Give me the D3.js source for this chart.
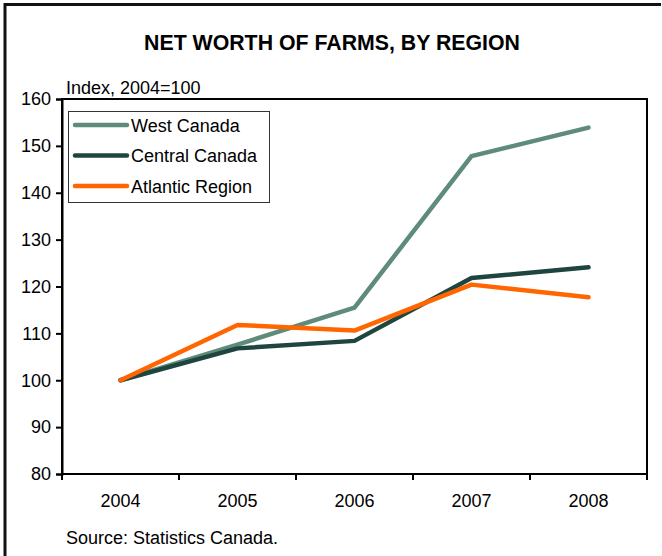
<!DOCTYPE html>
<html><head><meta charset="utf-8">
<script src="https://cdn.jsdelivr.net/npm/d3@7"></script>
<style>body{margin:0;background:#fff}svg{display:block}text{font-family:"Liberation Sans",Arial,sans-serif}</style>
</head><body>
<script>
const years = ["2004","2005","2006","2007","2008"];
const westCanada = [100, 107.6, 115.5, 147.8, 153.9];
const centralCanada = [100, 106.8, 108.4, 121.8, 124.1];
const atlanticRegion = [100, 111.8, 110.6, 120.4, 117.7];
const seriesNames = ["West Canada","Central Canada","Atlantic Region"];
const yTicks = [80,90,100,110,120,130,140,150,160];

const W=662,H=556;
const svg=d3.select("body").append("svg").attr("width",W).attr("height",H);
const m={l:62,t:99,r:647,b:474};
const x=d3.scaleBand().domain(years).range([m.l,m.r]);
const y=d3.scaleLinear().domain([80,160]).range([m.b,m.t]);
const fs=18;

// outer frame
svg.append("path").attr("d",`M5,${H+5} V4.5 H661`).attr("fill","none").attr("stroke","#111").attr("stroke-width",3);

svg.append("text").attr("x",332).attr("y",50).attr("text-anchor","middle").attr("font-size",21.3).attr("font-weight","bold").text("NET WORTH OF FARMS, BY REGION");
svg.append("text").attr("x",66).attr("y",94).attr("font-size",fs).text("Index, 2004=100");

// plot box
svg.append("rect").attr("x",m.l).attr("y",m.t).attr("width",m.r-m.l).attr("height",m.b-m.t).attr("fill","none").attr("stroke","#000").attr("stroke-width",2);

const yAx=svg.append("g").attr("transform",`translate(${m.l},0)`).call(d3.axisLeft(y).tickValues(yTicks).tickSize(6).tickPadding(5));
yAx.select(".domain").attr("stroke-width",2);
yAx.selectAll(".tick line").attr("stroke-width",2);
yAx.selectAll("text").attr("font-size",fs).attr("font-family","Liberation Sans, Arial, sans-serif").attr("fill","#000");

// x axis: ticks at category boundaries
const xb=svg.append("g").attr("transform",`translate(0,${m.b})`);
xb.append("line").attr("x1",m.l).attr("x2",m.r).attr("stroke","#000").attr("stroke-width",2);
const bounds=years.map(d=>x(d)).concat([x(years[years.length-1])+x.bandwidth()]);
xb.selectAll("line.t").data(bounds).join("line").attr("class","t").attr("x1",d=>d).attr("x2",d=>d).attr("y1",0).attr("y2",6).attr("stroke","#000").attr("stroke-width",2);
xb.selectAll("text").data(years).join("text").attr("x",d=>x(d)+x.bandwidth()/2).attr("y",33).attr("text-anchor","middle").attr("font-size",fs).text(d=>d);

const colors=["#5E8B7A","#1F4540","#FF6600"];
const data=[westCanada,centralCanada,atlanticRegion];
const line=d3.line().x((d,i)=>x(years[i])+x.bandwidth()/2).y(d=>y(d));
data.forEach((s,k)=>{
  svg.append("path").attr("d",line(s)).attr("fill","none").attr("stroke",colors[k]).attr("stroke-width",4.5).attr("stroke-linejoin","round").attr("stroke-linecap","round");
});

// legend
const lg=svg.append("g");
lg.append("rect").attr("x",68.5).attr("y",111.5).attr("width",201).attr("height",91).attr("fill","#fff").attr("stroke","#333").attr("stroke-width",1);
seriesNames.forEach((n,k)=>{
  const yy=125+k*30.5;
  lg.append("line").attr("x1",75).attr("x2",127).attr("y1",yy).attr("y2",yy).attr("stroke",colors[k]).attr("stroke-width",4.5).attr("stroke-linecap","round");
  lg.append("text").attr("x",131).attr("y",yy+6.5).attr("font-size",fs).text(n);
});

svg.append("text").attr("x",66).attr("y",544).attr("font-size",fs).text("Source: Statistics Canada.");
</script>
</body></html>
